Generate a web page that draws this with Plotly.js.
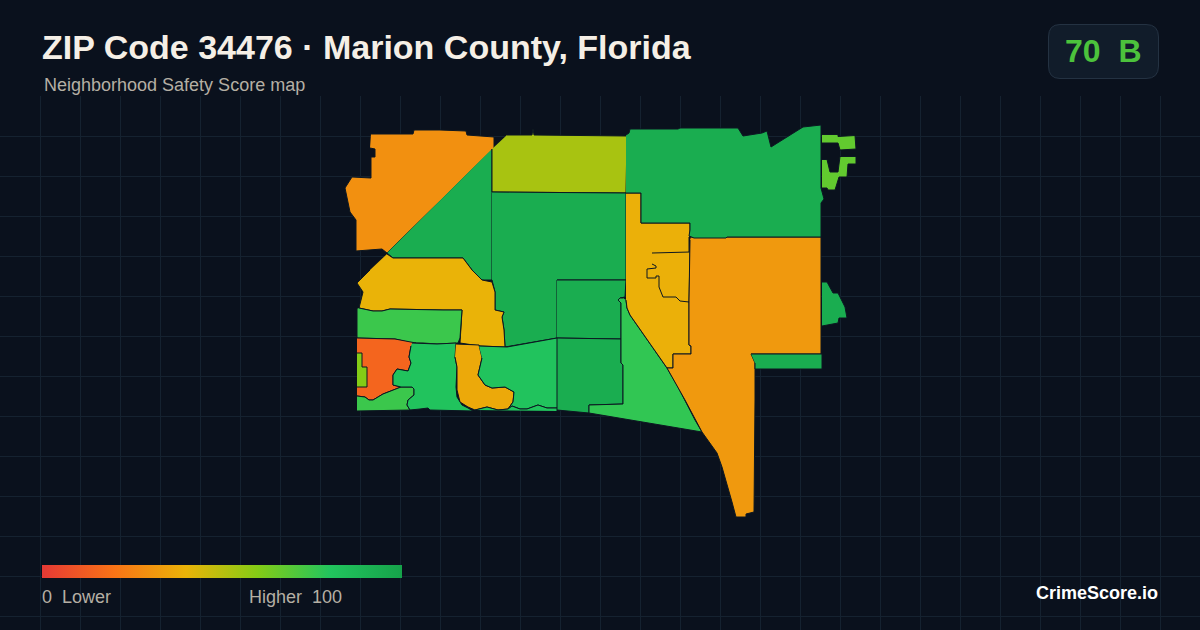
<!DOCTYPE html>
<html>
<head>
<meta charset="utf-8">
<script src="https://cdn.plot.ly/plotly-3.0.1.min.js"></script>
<style>
  html, body { margin: 0; padding: 0; background: #0a111d; }
  #chart { width: 1200px; height: 630px; }
</style>
</head>
<body>
<div id="chart"></div>
<script>
// Scores of the neighborhoods, in drawing order
const tractScores = [29, 94, 53, 94, 94, 94, 77, 39, 39, 32, 94, 94, 94, 67, 67, 40, 75, 15, 60, 75, 81, 37, 81, 81];

// Neighborhood outlines (x and y kept apart)
const tractX = [
  [371, 413, 414, 440, 466, 467, 494, 494, 387, 382, 356, 356, 350, 345, 352, 371, 371, 375, 375, 370],
  [492, 492, 482, 472, 463, 393, 387],
  [507, 532, 533, 534, 627, 626, 492, 492],
  [492, 626, 626, 557, 557, 505, 504, 502, 504, 495, 495, 492, 492],
  [557, 626, 625, 620, 618, 621, 621, 557],
  [557, 621, 621, 623, 623, 589, 589, 557],
  [623, 620, 618, 621, 621, 623, 623, 589, 589, 670, 702, 695, 678, 667, 630, 627, 626],
  [626, 641, 641, 665, 690, 690, 689, 689, 691, 691, 673, 673, 667, 630, 627, 626],
  [652, 690, 689, 680, 676, 663, 659, 659, 656, 656, 647, 647, 656, 656, 652],
  [691, 821, 821, 751, 755, 755, 754, 746, 746, 736, 732, 722, 717, 702, 685, 678, 667, 673, 673, 691, 691, 689, 689, 690],
  [626, 629, 630, 678, 680, 738, 743, 761, 762, 767, 771, 803, 821, 821, 824, 821, 821, 727, 726, 694, 689, 690, 690, 666, 641, 641, 626],
  [822, 827, 833, 838, 845, 847, 839, 838, 822],
  [751, 822, 822, 755, 755],
  [822, 838, 838, 855, 856, 840, 838, 822],
  [822, 827, 830, 838, 840, 856, 856, 848, 847, 839, 835, 828, 827, 822],
  [387, 393, 463, 472, 482, 492, 495, 495, 504, 502, 504, 505, 480, 460, 462, 443, 390, 382, 373, 359, 363, 357, 370],
  [359, 373, 382, 390, 443, 462, 460, 458, 437, 423, 412, 395, 357, 357],
  [357, 395, 416, 411, 409, 411, 408, 397, 393, 393, 401, 383, 373, 369, 365, 357],
  [357, 362, 362, 367, 367, 357],
  [357, 365, 369, 373, 383, 401, 412, 414, 414, 408, 407, 410, 357],
  [412, 437, 456, 455, 457, 456, 457, 462, 468, 473, 430, 428, 420, 410, 407, 408, 414, 414, 412, 401, 393, 393, 397, 408, 411, 409, 411],
  [456, 479, 482, 478, 485, 492, 505, 514, 513, 508, 498, 487, 475, 468, 460, 457, 457, 455],
  [479, 507, 557, 557, 547, 538, 527, 520, 512, 508, 513, 514, 505, 492, 485, 478, 482],
  [475, 487, 498, 508, 512, 520, 527, 538, 547, 557, 557]
];
const tractY = [
  [134, 134, 130, 130, 131, 135, 137, 148, 253, 249, 251, 220, 212, 188, 177, 178, 157, 157, 149, 148],
  [149, 280, 280, 270, 258, 258, 253],
  [135, 135, 129, 135, 136, 193, 192, 149],
  [192, 193, 280, 280, 338, 347, 330, 317, 312, 310, 292, 282, 280],
  [280, 280, 297, 298, 300, 303, 339, 338],
  [338, 339, 363, 365, 404, 405, 413, 410],
  [298, 298, 300, 303, 363, 365, 404, 405, 413, 427, 432, 420, 387, 368, 315, 308, 300],
  [193, 193, 223, 223, 223, 236, 237, 345, 346, 354, 354, 368, 368, 315, 308, 300],
  [253, 252, 302, 301, 297, 297, 287, 276, 276, 278, 278, 269, 268, 266, 264],
  [237, 237, 354, 354, 363, 400, 512, 514, 517, 517, 502, 467, 453, 432, 400, 387, 368, 368, 354, 354, 346, 345, 300, 240],
  [135, 133, 129, 129, 128, 128, 136, 133, 133, 131, 147, 127, 125, 188, 199, 203, 237, 237, 238, 238, 236, 230, 223, 223, 223, 193, 193],
  [282, 282, 293, 293, 307, 318, 318, 323, 326],
  [354, 354, 369, 369, 363],
  [134.5, 134.5, 136.5, 135.5, 149, 150, 143, 143],
  [159.5, 159.5, 172, 172, 156.5, 156.5, 164, 164, 177, 177, 190, 190, 188, 188],
  [254, 258, 258, 270, 280, 282, 292, 310, 312, 317, 330, 347, 346, 343, 310, 310, 309, 311, 311, 308, 292, 283, 270],
  [308, 311, 311, 309, 310, 310, 338, 343, 344, 343, 343, 339, 338, 309],
  [338, 339, 343, 346, 357, 363, 371, 369, 375, 385, 387, 394, 400, 400, 397, 396],
  [353, 353, 367, 367, 387, 387],
  [396, 397, 400, 400, 394, 387, 387, 389, 395, 400, 405, 410, 411],
  [343, 344, 343, 357, 367, 387, 397, 405, 408, 411, 410, 408, 409, 410, 405, 400, 395, 389, 387, 387, 385, 375, 369, 371, 363, 357, 346],
  [344, 345, 358, 375, 385, 388, 387, 392, 402, 409, 410, 407, 410, 407, 402, 390, 367, 357],
  [346, 347, 338, 408, 408, 405, 409, 409, 406, 409, 402, 392, 387, 388, 385, 375, 358],
  [410, 407, 410, 409, 406, 409, 409, 405, 408, 408, 411]
];

// Colour scale of the score
const scoreStops = [0, 20, 40, 60, 80, 100];
const stopColors = ["#e53935", "#f97316", "#eab308", "#84cc16", "#22c55e", "#16a34a"];

const hexToRgb = (hex) => [1, 3, 5].map((i) => parseInt(hex.slice(i, i + 2), 16));

// same ramp the legend uses
const scoreColor = (score) => {
  let i = 0;
  while (i < scoreStops.length - 2 && score > scoreStops[i + 1]) i++;
  const t = (score - scoreStops[i]) / (scoreStops[i + 1] - scoreStops[i]);
  const a = hexToRgb(stopColors[i]);
  const b = hexToRgb(stopColors[i + 1]);
  const c = a.map((v, k) => Math.round(v + (b[k] - v) * t));
  return `rgb(${c[0]},${c[1]},${c[2]})`;
};

const data = tractScores.map((score, i) => ({
  x: tractX[i],
  y: tractY[i],
  mode: "lines",
  type: "scatter",
  fill: "toself",
  fillcolor: scoreColor(score),
  line: { color: "#0c1722", width: 1 },
  hoverinfo: "skip",
  showlegend: false
}));

// only here for the colorbar, no visible points
data.push({
  x: [null, null],
  y: [null, null],
  mode: "markers",
  type: "scatter",
  showlegend: false,
  hoverinfo: "skip",
  marker: {
    color: [0, 100],
    cmin: 0,
    cmax: 100,
    colorscale: scoreStops.map((s, i) => [s / 100, stopColors[i]]),
    showscale: true,
    colorbar: {
      orientation: "h",
      lenmode: "pixels",
      len: 360,
      thickness: 13,
      thicknessmode: "pixels",
      x: 42 / 1200,
      xanchor: "left",
      y: 1 - 565 / 630,
      yanchor: "top",
      xpad: 0,
      ypad: 0,
      outlinewidth: 0,
      borderwidth: 0,
      ticks: "",
      showticklabels: false
    }
  }
});

const px = (x) => x / 1200;
const py = (y) => 1 - y / 630;

const label = (text, x, y, size, color, bold, anchor) => ({
  text: text,
  xref: "paper",
  yref: "paper",
  x: px(x),
  y: py(y),
  xanchor: anchor || "left",
  yanchor: "middle",
  showarrow: false,
  borderpad: 0,
  font: { family: "Liberation Sans, Arial, sans-serif", size: size, color: color, weight: bold ? 700 : 400 }
});

const layout = {
  width: 1200,
  height: 630,
  margin: { l: 0, r: 0, t: 0, b: 0 },
  paper_bgcolor: "#0a111d",
  plot_bgcolor: "#0a111d",
  showlegend: false,
  xaxis: {
    range: [0, 1200],
    tick0: 0,
    dtick: 40,
    showgrid: true,
    gridcolor: "#152230",
    gridwidth: 1,
    zeroline: false,
    showline: false,
    ticks: "",
    showticklabels: false
  },
  yaxis: {
    domain: [0, 534 / 630],
    range: [630, 96],
    tick0: 16,
    dtick: 40,
    showgrid: true,
    gridcolor: "#152230",
    gridwidth: 1,
    zeroline: false,
    showline: false,
    ticks: "",
    showticklabels: false
  },
  shapes: [
    {
      // score badge
      type: "path",
      xref: "paper",
      yref: "paper",
      path: `M ${px(1060)} ${py(24.5)} L ${px(1146)} ${py(24.5)} Q ${px(1158.5)} ${py(24.5)} ${px(1158.5)} ${py(37)} L ${px(1158.5)} ${py(66)} Q ${px(1158.5)} ${py(78.5)} ${px(1146)} ${py(78.5)} L ${px(1060)} ${py(78.5)} Q ${px(1048.5)} ${py(78.5)} ${px(1048.5)} ${py(66)} L ${px(1048.5)} ${py(37)} Q ${px(1048.5)} ${py(24.5)} ${px(1060)} ${py(24.5)} Z`,
      fillcolor: "#111c2a",
      line: { color: "#243242", width: 1 }
    }
  ],
  annotations: [
    label("ZIP Code 34476 · Marion County, Florida", 41, 47, 34, "#f5efe6", true),
    label("Neighborhood Safety Score map", 43, 85, 18, "#b5afa4", false),
    label("70\u00a0\u00a0B", 1102.5, 51, 32, "#4cc23c", true, "center"),
    label("0\u00a0\u00a0Lower", 41, 597, 18, "#b5afa4", false),
    label("Higher\u00a0\u00a0100", 248, 597, 18, "#b5afa4", false),
    label("CrimeScore.io", 1159, 593, 18, "#ffffff", true, "right")
  ]
};

Plotly.newPlot("chart", data, layout, { staticPlot: true, displayModeBar: false });
</script>
</body>
</html>
